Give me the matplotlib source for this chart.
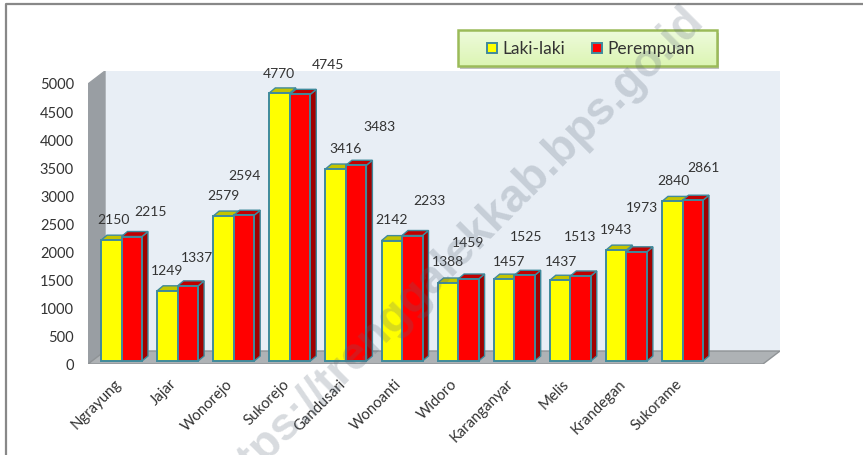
import matplotlib
matplotlib.use('Agg')
import matplotlib.pyplot as plt
import numpy as np
from matplotlib.patches import Rectangle

plt.rcParams['font.family'] = ['Lato', 'DejaVu Sans']

categories = ['Ngrayung', 'Jajar', 'Wonorejo', 'Sukorejo', 'Gandusari', 'Wonoanti',
              'Widoro', 'Karanganyar', 'Melis', 'Krandegan', 'Sukorame']
laki = [2150, 1249, 2579, 4770, 3416, 2142, 1388, 1457, 1437, 1973, 2840]
perempuan = [2215, 1337, 2594, 4745, 3483, 2233, 1459, 1525, 1513, 1943, 2861]
yticks = [0, 500, 1000, 1500, 2000, 2500, 3000, 3500, 4000, 4500, 5000]

# the data labels were dragged around by hand in the original, pixel centres
laki_label_x = [113, 167, 223, 279, 346, 392, 448, 509, 561, 642, 673]
laki_label_y = [220, 271, 196, 74, 149, 220, 262, 262, 262, 208, 181]
per_label_x = [151, 197, 244, 328, 379, 429, 468, 526, 580, 616, 703]
per_label_y = [212, 258, 176, 65, 127, 201, 243, 237, 237, 230, 168]

W, H = 863, 456
EDGE = '#3f8a9c'
TEXT = '#333333'

fig = plt.figure(figsize=(W / 100, H / 100), dpi=100)
# axes box in pixels: the wall/floor block of the fake 3d chart
ax = fig.add_axes([88 / W, 1 - 365 / H, (780 - 88) / W, (365 - 72) / H])

px_y = 281 / 5000       # pixels per unit
px_x = 56.1             # pixels per category
ax.set_ylim(0, 293 / px_y)
ax.set_xlim(-(121.5 - 88) / px_x, (780 - 121.5) / px_x)
ax.axis('off')
ax.patch.set_visible(False)

# depth offsets in data units
dx_wall = 17 / px_x
dy_wall = 13 / px_y
dx_bar = 6 / px_x
dy_bar = 5 / px_y
base = 3 / px_y
bw = 20.5 / px_x
x0, x1 = ax.get_xlim()
y1 = ax.get_ylim()[1]

# back wall, side wall, floor
ax.fill([x0 + dx_wall, x1, x1, x0 + dx_wall], [dy_wall, dy_wall, y1, y1], color='#e8eef5', zorder=1)
ax.fill([x0, x0 + dx_wall, x0 + dx_wall, x0], [0, dy_wall, y1, y1 - dy_wall],
        color='#999ea3', zorder=1)
ax.fill([x0, x1 - dx_wall, x1, x0 + dx_wall], [0, 0, dy_wall, dy_wall], color='#aeb2b5',
        ec='#8f9396', lw=1, zorder=1)

x = np.arange(len(categories))


def bars(xs, vals, front, side, top):
    for xi, v in zip(xs, vals):
        t = base + v
        ax.fill([xi + bw / 2, xi + bw / 2 + dx_bar, xi + bw / 2 + dx_bar, xi + bw / 2],
                [base, base + dy_bar, t + dy_bar, t], fc=side, ec=EDGE, lw=1, zorder=3)
        ax.fill([xi - bw / 2, xi - bw / 2 + dx_bar, xi + bw / 2 + dx_bar, xi + bw / 2],
                [t, t + dy_bar, t + dy_bar, t], fc=top, ec=EDGE, lw=1, zorder=3)
    ax.bar(xs, vals, bw, bottom=base, color=front, edgecolor=EDGE, linewidth=1.4, zorder=4)


bars(x - bw / 2, laki, '#ffff00', '#a8a800', '#c4c400')
bars(x + bw / 2, perempuan, '#ff0000', '#a00000', '#c00000')

# y tick labels, no tick marks
for v in yticks:
    ax.annotate(str(v), (x0, v), xytext=(-14, -1.5), textcoords='offset pixels',
                ha='right', va='center', fontsize=10.5, color=TEXT, annotation_clip=False)

for xi, name in zip(x, categories):
    ax.annotate(name, (xi - 0.14, 0), xytext=(0, -12), textcoords='offset pixels', rotation=45,
                rotation_mode='anchor', ha='right', va='top', fontsize=10.7, color=TEXT,
                annotation_clip=False)

# overlay in image pixels for legend, hand placed labels, frame and watermark
fa = fig.add_axes([0, 0, 1, 1], zorder=5)
fa.patch.set_visible(False)

grad = np.linspace(0, 1, 40).reshape(-1, 1)
fa.add_patch(Rectangle((460, 34), 259, 36, fc='#777777', ec='none', alpha=0.45))
fa.imshow(grad, extent=(458, 717, 67, 31), aspect='auto', zorder=2,
          cmap=matplotlib.colors.LinearSegmentedColormap.from_list('lg', ['#eefbdc', '#dcf5b4']))
fa.add_patch(Rectangle((458, 31), 259, 36, fc='none', ec='#9bbb59', lw=1.8, zorder=3))
fa.add_patch(Rectangle((487, 44), 10, 10, fc='#ffff00', ec=EDGE, lw=1.4, zorder=3))
fa.add_patch(Rectangle((592, 44), 10, 10, fc='#ff0000', ec=EDGE, lw=1.4, zorder=3))
fa.text(502, 49, 'Laki-laki', fontsize=12.5, color=TEXT, va='center', zorder=4)
fa.text(607, 49, 'Perempuan', fontsize=12.5, color=TEXT, va='center', zorder=4)

for xs, ys, vals in [(laki_label_x, laki_label_y, laki), (per_label_x, per_label_y, perempuan)]:
    for lx, ly, v in zip(xs, ys, vals):
        fa.text(lx, ly, str(v), ha='center', va='center', fontsize=10, color=TEXT, zorder=4)

# outer frame, open on the right and bottom
fa.plot([6, 6, W], [H, 5, 5], color='#888888', lw=1.6)

fa.text(456, 254, 'https://trenggalekkab.bps.go.id', rotation=45, rotation_mode='anchor',
        fontsize=33, fontweight='bold', family='Liberation Sans', color='#5a6878', alpha=0.24,
        ha='center', va='center', zorder=10)

fa.set_xlim(0, W)
fa.set_ylim(H, 0)
fa.axis('off')

fig.savefig('out.png', dpi=100)
